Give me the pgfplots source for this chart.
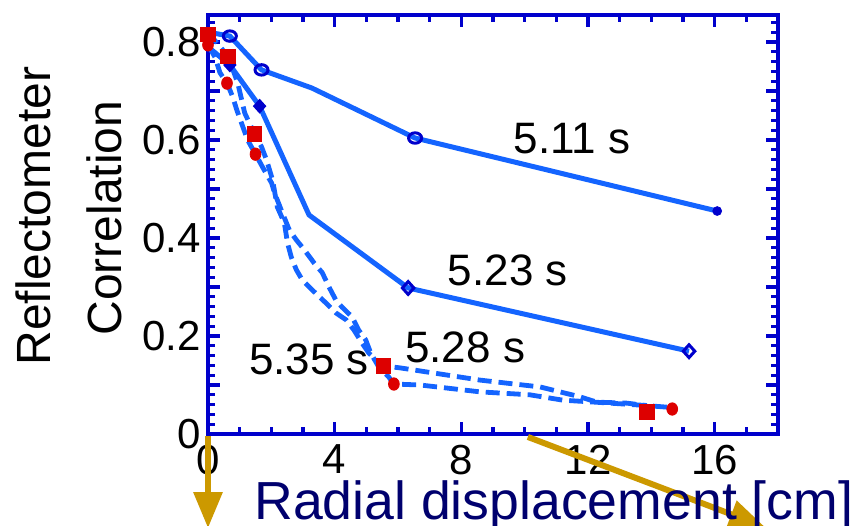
\documentclass[border=0pt]{standalone}
\usepackage{pgfplots}
\pgfplotsset{compat=1.18}
\usepackage{fontspec}
\setmainfont{Liberation Sans}
\usetikzlibrary{arrows.meta}

\definecolor{lineblue}{RGB}{20,100,255}
\definecolor{markblue}{RGB}{0,0,204}
\definecolor{axisblue}{RGB}{0,0,204}
\definecolor{markred}{RGB}{221,0,0}
\definecolor{gold}{RGB}{204,153,0}
\definecolor{navy}{RGB}{0,0,110}

\begin{document}
\begin{tikzpicture}
\useasboundingbox (0,0) rectangle (427pt,262.5pt);
\begin{axis}[
  at={(104pt,45.5pt)}, anchor=south west,
  scale only axis, width=285pt, height=209.5pt,
  xmin=0, xmax=18, ymin=0, ymax=0.855,
  xtick={0,4,8,12,16},
  minor xtick={1,2,3,5,6,7,9,10,11,13,14,15,17},
  ytick={0,0.1,0.2,0.3,0.4,0.5,0.6,0.7,0.8},
  yticklabels={0,{},0.2,{},0.4,{},0.6,{},0.8},
  minor ytick={0.02,0.04,0.06,0.08,0.12,0.14,0.16,0.18,0.22,0.24,0.26,0.28,0.32,0.34,0.36,0.38,0.42,0.44,0.46,0.48,0.52,0.54,0.56,0.58,0.62,0.64,0.66,0.68,0.72,0.74,0.76,0.78,0.82,0.84},
  tick align=inside,
  major tick length=6pt, minor tick length=3.5pt,
  every tick/.style={draw=axisblue, line width=1.6pt},
  axis line style={draw=axisblue, line width=2.3pt},
  ticklabel style={font=\fontsize{21}{25}\selectfont, text=black},
  /pgf/number format/assume math mode=true,
  xticklabel style={yshift=-2pt},
  clip=false,
]
% pointer arrows below the frame
\draw[gold, line width=3pt, -{Triangle[width=14pt,length=18pt]}]
  (axis cs:0,-0.004) -- (axis cs:0,-0.192);
\draw[gold, line width=3pt, -{Triangle[width=14pt,length=18pt]}]
  (axis cs:10.10,-0.006) -- (axis cs:17.59,-0.19);

% 5.35 s / 5.28 s (dashed)
\addplot[lineblue, line width=2.4pt, dash pattern=on 7pt off 3.5pt] coordinates {
  (0,0.820) (0.63,0.771) (0.94,0.716) (1.16,0.655) (1.47,0.612) (1.69,0.586)
  (1.85,0.559) (2.04,0.518) (2.19,0.463) (2.41,0.431) (2.51,0.390) (2.63,0.361)
  (2.79,0.335) (2.98,0.314) (3.29,0.294) (3.73,0.267) (4.04,0.247) (4.36,0.233)
  (4.61,0.212) (4.86,0.186) (5.08,0.165) (5.53,0.139) (6.06,0.135) (8.59,0.110)
  (10.49,0.096) (11.74,0.076) (12.28,0.065) (13.22,0.063) (13.86,0.058)
};
\addplot[lineblue, line width=2.4pt, dash pattern=on 7pt off 3.5pt] coordinates {
  (0,0.794) (0.22,0.769) (0.38,0.737) (0.60,0.716) (0.78,0.688) (0.91,0.661)
  (1.10,0.627) (1.25,0.600) (1.50,0.571) (1.72,0.545) (2.01,0.512) (2.10,0.492)
  (2.35,0.451) (2.57,0.416) (2.79,0.396) (3.04,0.376) (3.35,0.349) (3.61,0.329)
  (3.82,0.300) (4.04,0.273) (4.23,0.259) (4.55,0.239) (4.76,0.212) (4.98,0.192)
  (5.14,0.165) (5.39,0.137) (5.71,0.116) (5.87,0.102) (6.70,0.100) (8.59,0.086)
  (10.16,0.080) (11.21,0.069) (12.22,0.065) (13.64,0.059) (14.66,0.054)
};

% 5.11 s
\addplot[lineblue, line width=2.5pt] coordinates {
  (0,0.820) (0.69,0.812) (1.69,0.743) (3.28,0.706) (6.54,0.604) (16.08,0.455)
};
% 5.23 s
\addplot[lineblue, line width=2.5pt] coordinates {
  (0,0.790) (0.69,0.753) (1.63,0.669) (3.19,0.447) (6.32,0.298) (15.19,0.169)
};

% measurement points
\addplot[only marks, mark=o, mark size=2.6pt,
  mark options={draw=markblue, line width=1.5pt, xscale=1.25}] coordinates {
  (0.69,0.812) (1.69,0.743) (6.54,0.604)
};
\addplot[only marks, mark=*, mark size=2.2pt,
  mark options={draw=markblue, fill=markblue}] coordinates {(16.08,0.455)};
\addplot[only marks, mark=diamond*, mark size=3pt,
  mark options={draw=markblue, fill=markblue, line width=1pt, xscale=1.2}] coordinates {
  (0.69,0.753) (1.63,0.669)
};
\addplot[only marks, mark=diamond, mark size=3.2pt,
  mark options={draw=markblue, fill=white, line width=1.5pt, xscale=1.2}] coordinates {
  (6.32,0.298) (15.19,0.169)
};
\addplot[only marks, mark=square*, mark size=3.6pt,
  mark options={draw=markred, fill=markred}] coordinates {
  (0,0.815) (0.63,0.771) (1.47,0.612) (5.53,0.139) (13.86,0.045)
};
\addplot[only marks, mark=*, mark size=2.7pt,
  mark options={draw=markred, fill=markred, yscale=1.15}] coordinates {
  (0,0.794) (0.60,0.716) (1.50,0.571) (5.87,0.102) (14.66,0.051)
};

% time labels
\node[font=\fontsize{22}{26}\selectfont] at (axis cs:11.49,0.602) {5.11 s};
\node[font=\fontsize{22}{26}\selectfont] at (axis cs:9.47,0.333) {5.23 s};
\node[font=\fontsize{22}{26}\selectfont] at (axis cs:8.12,0.176) {5.28 s};
\node[font=\fontsize{22}{26}\selectfont] at (axis cs:3.19,0.153) {5.35 s};
\end{axis}

% axis titles
\node[rotate=90, font=\fontsize{24}{28}\selectfont] at (16.5pt,154.5pt) {Reflectometer};
\node[rotate=90, font=\fontsize{24}{28}\selectfont] at (52.25pt,153.5pt) {Correlation};
\node[anchor=base west, inner sep=0pt, text=navy, font=\fontsize{26.8}{30}\selectfont]
  at (127pt,3pt) {Radial displacement [cm]};
\end{tikzpicture}
\end{document}
